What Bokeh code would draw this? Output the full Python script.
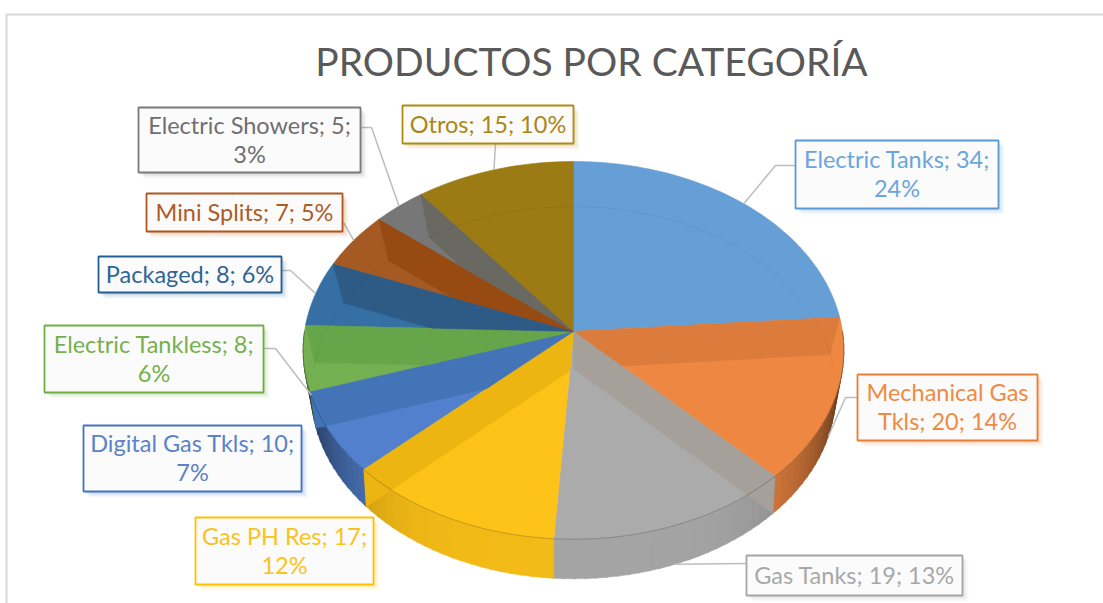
import math
from bokeh.plotting import figure
from bokeh.models import Range1d
from bokeh.core.properties import value
from bokeh.embed import file_html
from bokeh.resources import INLINE

# ---- data ----
categories = ["Electric Tanks", "Mechanical Gas Tkls", "Gas Tanks", "Gas PH Res", "Digital Gas Tkls",
              "Electric Tankless", "Packaged", "Mini Splits", "Electric Showers", "Otros"]
values = [34, 20, 19, 17, 10, 8, 8, 7, 5, 15]
percents = [24, 14, 13, 12, 7, 6, 6, 5, 3, 10]
title_text = "PRODUCTOS POR CATEGORÍA"
label_texts = ["Electric Tanks; 34;\n24%", "Mechanical Gas\nTkls; 20; 14%", "Gas Tanks; 19; 13%",
               "Gas PH Res; 17;\n12%", "Digital Gas Tkls; 10;\n7%", "Electric Tankless; 8;\n6%",
               "Packaged; 8; 6%", "Mini Splits; 7; 5%", "Electric Showers; 5;\n3%", "Otros; 15; 10%"]

# ---- styles ----
top_col = ["#669ed6", "#ee8742", "#ababab", "#fec318", "#5280cc", "#74af52", "#356fa3", "#a55a24", "#777777", "#9c7a14"]
wall_col = ["#669ed6", "#dc7c3c", "#a6a09a", "#ecb512", "#4474b8", "#67a54b", "#2d5b85", "#974b12", "#696861", "#9c7a14"]
box_col = ["#5b9bd5", "#ed7d31", "#a5a5a5", "#ffc000", "#4472c4", "#70ad47", "#255e91", "#b0561e", "#7a7a7a", "#b08b12"]
txt_col = ["#6ba5da", "#ef8a45", "#a8a8a8", "#fcc21c", "#5b82c8", "#76b04e", "#2f6596", "#ae5b26", "#6f6f6f", "#a98716"]
# label boxes: left, right, top, bottom; optional leader elbow
boxes = [(795, 998, 140, 208), (857, 1037, 374, 440), (746, 962, 555, 595), (195, 373, 517, 584),
         (83, 301, 425, 491), (44, 263, 325, 392), (98, 281, 256, 292), (146, 342, 193, 231),
         (138, 360, 107, 172), (402, 573, 105, 143)]
elbows = [[(795, 165), (775, 165)], [(857, 397), (845, 397)], [(746, 563)], None, None,
          [(263, 348), (275, 348)], [(281, 270), (290, 270)], [(343, 222)], [(360, 127), (371, 127)], [(495, 143)]]

# projection of the tilted disc
CX, CY, RX, RY, K = 573.0, 331.0, 269.0, 187.0, 0.10
BY, BRX, BRY, BK = 368.0, 260.0, 183.0, 0.13


def rim_top(t):
    s, c = math.sin(t), math.cos(t)
    f = 1 / (1 + K * c)
    return CX + RX * s * f, CY - RY * c * f


def rim_bot(t):
    s, c = math.sin(t), math.cos(t)
    f = 1 / (1 + BK * c)
    return CX + BRX * s * f, BY - BRY * c * f


def mix(hexcol, f):
    r, g, b = (int(hexcol[i:i + 2], 16) for i in (1, 3, 5))
    return "#%02x%02x%02x" % (int(r * f), int(g * f), int(b * f))


def clip(poly, a, b, keep):
    def side(p):
        return (b[0] - a[0]) * (p[1] - a[1]) - (b[1] - a[1]) * (p[0] - a[0])
    sk = side(keep)
    out = []
    for i, p in enumerate(poly):
        q = poly[(i + 1) % len(poly)]
        sp, sq = side(p) * sk, side(q) * sk
        if sp >= 0:
            out.append(p)
        if sp * sq < 0:
            u = side(p) / (side(p) - side(q))
            out.append((p[0] + u * (q[0] - p[0]), p[1] + u * (q[1] - p[1])))
    return out


total = sum(values)
edges = [0.0]
for v in values:
    edges.append(edges[-1] + v / total * 2 * math.pi)

p = figure(width=1103, height=603, output_backend="svg", toolbar_location=None,
           x_range=Range1d(0, 1103), y_range=Range1d(603, 0), min_border=0)
p.axis.visible = False
p.grid.visible = False
p.outline_line_color = None
p.background_fill_color = "#ffffff"
p.border_fill_color = "#ffffff"

# chart frame
p.line([6, 6, 1103], [603, 14, 14], line_color="#d9d9d9", line_width=2)

# outer side walls
for i in range(len(values)):
    a0, a1 = max(edges[i], math.pi / 2), min(edges[i + 1], 3 * math.pi / 2)
    if a1 <= a0:
        continue
    n = max(2, int((a1 - a0) / math.radians(2)))
    for j in range(n):
        u0 = a0 + (a1 - a0) * j / n
        u1 = a0 + (a1 - a0) * (j + 1) / n
        t0, t1 = rim_top(u0), rim_top(u1 + 0.005)
        b0, b1 = rim_bot(u0), rim_bot(u1 + 0.005)
        m = abs(math.sin((u0 + u1) / 2))
        f = 0.96 - 0.62 * m ** 5
        col = mix(top_col[i], f)
        p.patch([t0[0], t1[0], b1[0], b0[0]], [t0[1], t1[1], b1[1], b0[1]], fill_color=col, line_color=col, line_width=0.5)

# top faces
for i in range(len(values)):
    n = max(4, int((edges[i + 1] - edges[i]) / math.radians(1.5)))
    pts = [rim_top(edges[i] + (edges[i + 1] - edges[i]) * j / n) for j in range(n + 1)]
    xs = [CX] + [q[0] for q in pts]
    ys = [CY] + [q[1] for q in pts]
    p.patch(xs, ys, fill_color=top_col[i], line_color=top_col[i], line_width=0.6)

# inner walls seen through the translucent disc
for i in range(len(values)):
    a0, a1 = edges[i], edges[i + 1]
    wall_t, other = (a0, a1) if math.cos(a0) > math.cos(a1) else (a1, a0)
    quad = [(CX, CY), rim_top(wall_t), rim_bot(wall_t), (CX, BY)]
    mid = rim_top((a0 + a1) / 2)
    poly = clip(quad, (CX, CY), rim_top(other), mid)
    if len(poly) >= 3:
        p.patch([q[0] for q in poly], [q[1] for q in poly], fill_color=wall_col[i], line_color=wall_col[i], line_width=0.4)

# far rim of the lower face, seen through
steps = [k * math.pi / 90 for k in range(-45, 46)]
bx = [rim_bot(t)[0] for t in steps]
by = [rim_bot(t)[1] for t in steps]
p.line(bx, by, line_color="#000000", line_alpha=0.05, line_width=1)

# front edge of the top face
steps = [k * math.pi / 90 for k in range(45, 136)]
p.line([rim_top(t)[0] for t in steps], [rim_top(t)[1] for t in steps], line_color="#000000", line_alpha=0.22, line_width=1)

# leaders
for i, e in enumerate(elbows):
    if not e:
        continue
    mid_t = (edges[i] + edges[i + 1]) / 2
    end = rim_top(mid_t) if math.cos(mid_t) > 0 else rim_bot(mid_t)
    p.line([q[0] for q in e] + [end[0]], [q[1] for q in e] + [end[1]], line_color="#bdbdbd", line_width=1.5)

# label boxes
for i, (l, r, t, b) in enumerate(boxes):
    for off, al in ((6, 0.06), (4, 0.10), (2, 0.14)):
        p.quad(left=l + off, right=r + off, top=t + off, bottom=b + off, fill_color=box_col[i], fill_alpha=al, line_color=None)
    p.quad(left=l, right=r, top=t, bottom=b, fill_color="#fbfbfb", line_color=box_col[i], line_width=1.8)
    lines = label_texts[i].split("\n")
    cy = (t + b) / 2
    for k, s in enumerate(lines):
        p.text([(l + r) / 2], [cy + (k - (len(lines) - 1) / 2) * 29 - 1], text=[s], text_align="center", text_baseline="middle",
               text_color=txt_col[i], text_font=value("Lato"), text_font_size="23.5px")

p.text([591], [60], text=[title_text], text_align="center", text_baseline="middle", text_color="#595959",
       text_font=value("Lato"), text_font_size="39px")

open("out.html", "w").write(file_html(p, INLINE))
